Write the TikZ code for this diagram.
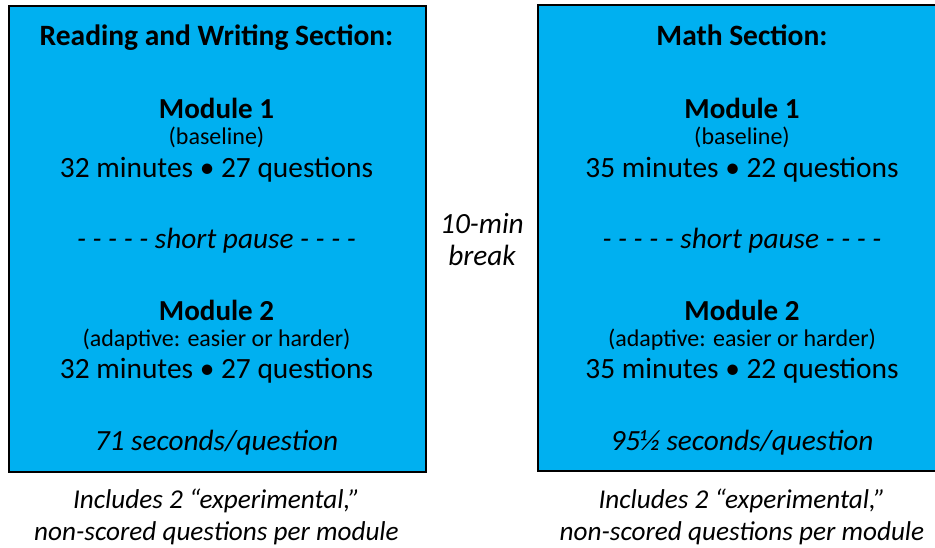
\documentclass[tikz,border=0pt]{standalone}
\usepackage{fontspec}
\setmainfont{Carlito}
\definecolor{boxblue}{HTML}{00B0F0}
\begin{document}
\begin{tikzpicture}[x=1pt,y=-1pt,
  txt/.style={anchor=base,inner sep=0pt,font=\fontsize{29.4}{34}\selectfont},
  ttl/.style={anchor=base,inner sep=0pt,font=\fontsize{29.5}{34}\selectfont\bfseries},
  modl/.style={anchor=base,inner sep=0pt,font=\fontsize{29}{34}\selectfont\bfseries},
  subt/.style={anchor=base,inner sep=0pt,font=\fontsize{24}{28}\selectfont},
  ital/.style={anchor=base,inner sep=0pt,font=\fontsize{29.3}{34}\selectfont\itshape},
  note/.style={anchor=base,inner sep=0pt,font=\fontsize{27.2}{32}\selectfont\itshape},
  secbox/.style={fill=boxblue,draw=black,line width=2.2pt}]
\useasboundingbox (0,0) rectangle (935,548);
% left box
\node[secbox,minimum width=417pt,minimum height=466pt,inner sep=0pt,anchor=north west] (lbox) at (8,5) {};
% right box (cut at the right edge)
\fill[boxblue] (538,5) rectangle (935,471);
\draw[line width=2.2pt] (935,5) -- (538,5) -- (538,471) -- (935,471);
\coordinate (rbox) at (742,5);
% left texts
\def\lx{216.5}
\node[ttl] (ltitle) at (\lx,46) {Reading and Writing Section:};
\node[modl] (lm1) at (\lx,118.5) {Module 1};
\node[subt] (lm1s) at (\lx,145) {(baseline)};
\node[txt] (lm1t) at (\lx,177.5) {32 minutes • 27 questions};
\node[ital] (lpause) at (\lx,249) {- - - - - short pause - - - -};
\node[modl] (lm2) at (\lx,320.5) {Module 2};
\node[subt] (lm2s) at (\lx,346) {(adaptive: easier or harder)};
\node[txt] (lm2t) at (\lx,378.5) {32 minutes • 27 questions};
\node[ital] (lsec) at (\lx,450.5) {71 seconds/question};
\node[note] (ln1) at (\lx,508) {Includes 2 “experimental,”};
\node[note] (ln2) at (\lx,540) {non-scored questions per module};
% right texts
\def\rx{742}
\node[ttl] (rtitle) at (\rx,46) {Math Section:};
\node[modl] (rm1) at (\rx,118.5) {Module 1};
\node[subt] (rm1s) at (\rx,145) {(baseline)};
\node[txt] (rm1t) at (\rx,177.5) {35 minutes • 22 questions};
\node[ital] (rpause) at (\rx,249) {- - - - - short pause - - - -};
\node[modl] (rm2) at (\rx,320.5) {Module 2};
\node[subt] (rm2s) at (\rx,346) {(adaptive: easier or harder)};
\node[txt] (rm2t) at (\rx,378.5) {35 minutes • 22 questions};
\node[ital] (rsec) at (\rx,450.5) {95½ seconds/question};
\node[note] (rn1) at (\rx,508) {Includes 2 “experimental,”};
\node[note] (rn2) at (\rx,540) {non-scored questions per module};
% break
\node[ital] (brk1) at (482,233.5) {10-min};
\node[ital] (brk2) at (482,266) {break};
\end{tikzpicture}
\end{document}
